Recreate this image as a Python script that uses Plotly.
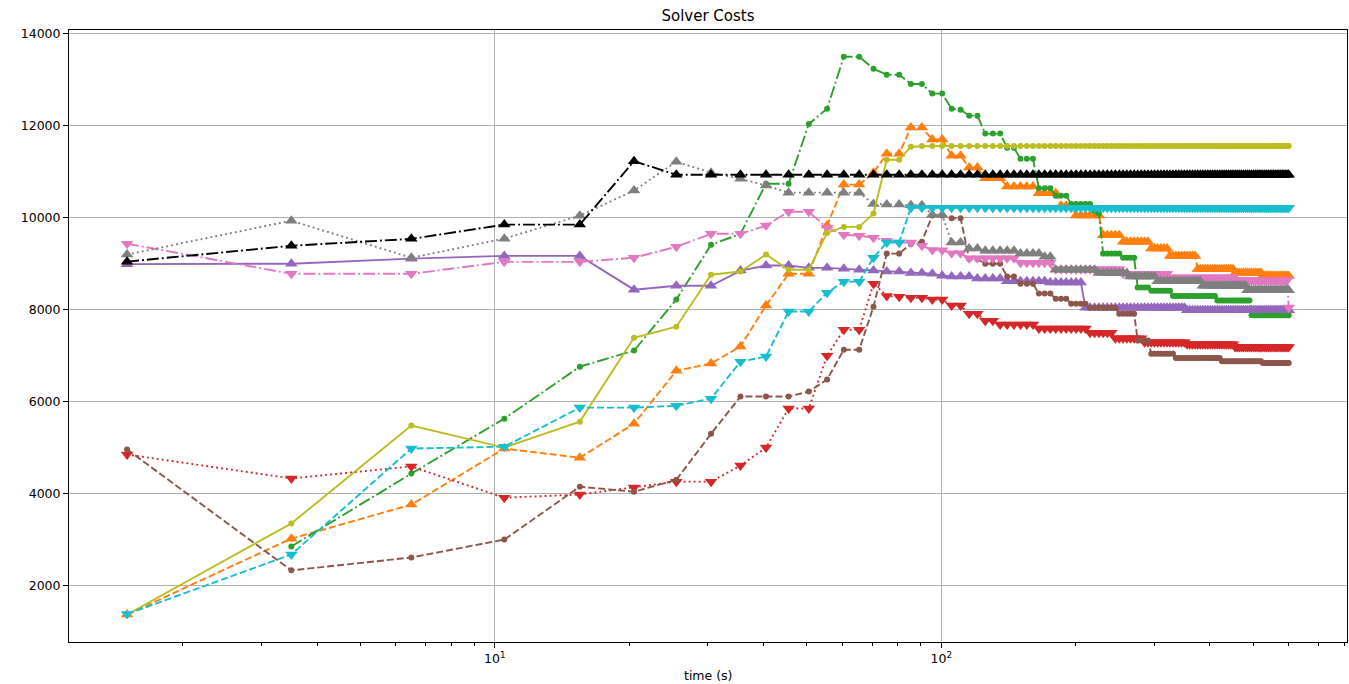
import plotly.graph_objects as go

# ---- data ----
# sample times (s)
T = [1.5, 3.5, 6.5, 10.5, 15.5] + [20.5 + 5 * i for i in range(117)]

# early values: one per time up to t=100.5 ; tail: (t_end, value) plateaus after that
orange_early = [1370, 3020, 3760, 4980, 4780, 5520, 6670, 6830, 7200, 8090, 8780, 8780,
                9830, 10720, 10720, 10980, 11390, 11390, 11960, 11960, 11700, 11700]
orange_tail = [(110.5, 11350), (120.5, 11090), (135.5, 10860), (160.5, 10680), (180.5, 10530),
               (195.5, 10260), (225.5, 10050), (250.5, 9620), (290.5, 9480), (320.5, 9330),
               (370.5, 9170), (450.5, 8880), (520.5, 8800), (600.5, 8730)]

green_early = [None, 2850, 4435, 5630, 6760, 7110, 8220, 9410, 9650, 10740, 10740, 12040,
               12370, 13500, 13500, 13240, 13110, 13110, 12910, 12910, 12700, 12700]
green_tail = [(105.5, 12370), (110.5, 12350), (120.5, 12220), (135.5, 11830), (145.5, 11520),
              (160.5, 11280), (175.5, 10640), (190.5, 10480), (215.5, 10300), (220.5, 10150),
              (225.5, 10090), (250.5, 9220), (270.5, 9130), (290.5, 8480), (325.5, 8410),
              (410.5, 8300), (490.5, 8200), (600.5, 7880)]

red_early = [4850, 4330, 4590, 3910, 3980, 4130, 4260, 4260, 4610, 5000, 5850, 5850,
             7000, 7565, 7565, 8565, 8300, 8280, 8260, 8260, 8220, 8220]
red_tail = [(110.5, 8090), (120.5, 7910), (130.5, 7760), (160.5, 7680), (210.5, 7590),
            (240.5, 7500), (280.5, 7380), (350.5, 7290), (450.5, 7250), (600.5, 7190)]

purple_early = [8990, 9000, 9110, 9170, 9170, 8435, 8520, 8520, 8850, 8960, 8960, 8910,
                8910, 8890, 8870, 8850, 8830, 8830, 8800, 8800, 8780, 8740]
purple_tail = [(115.5, 8720), (135.5, 8680), (170.5, 8620), (205.5, 8590), (350.5, 8040),
               (600.5, 7990)]

brown_early = [4960, 2330, 2610, 3000, 4150, 4040, 4300, 5300, 6110, 6110, 6110, 6220,
               6480, 7130, 7130, 8065, 9220, 9220, 9430, 9480, 10050, 10050]
brown_tail = [(110.5, 9990), (120.5, 9100), (135.5, 9000), (145.5, 8720), (160.5, 8565),
              (175.5, 8350), (190.5, 8240), (210.5, 8130), (245.5, 8040), (270.5, 7910),
              (290.5, 7330), (330.5, 7040), (420.5, 6950), (520.5, 6880), (600.5, 6840)]

pink_early = [9435, 8780, 8780, 9040, 9040, 9130, 9370, 9650, 9650, 9830, 10130, 10130,
              9780, 9630, 9610, 9565, 9500, 9460, 9460, 9390, 9300, 9290]
pink_tail = [(110.5, 9230), (145.5, 9120), (175.5, 9020), (250.5, 8880), (320.5, 8780),
             (450.5, 8700), (595.5, 8640), (600.5, 8050)]

gray_early = [9200, 9935, 9130, 9545, 10045, 10590, 11220, 10980, 10850, 10700, 10545, 10545,
              10545, 10545, 10545, 10300, 10285, 10285, 10270, 10270, 10065, 10065]
gray_tail = [(110.5, 9460), (120.5, 9330), (145.5, 9280), (165.5, 9220), (175.5, 9150),
             (220.5, 8870), (260.5, 8800), (300.5, 8720), (380.5, 8620), (480.5, 8520),
             (600.5, 8420)]

olive_early = [1370, 3350, 5480, 5000, 5565, 7390, 7630, 8760, 8830, 9200, 8870, 8870,
               9670, 9800, 9800, 10090, 11260, 11260, 11545, 11560, 11560, 11560]
olive_tail = [(600.5, 11560)]

cyan_early = [1380, 2675, 4980, 5020, 5870, 5870, 5910, 6065, 6870, 6980, 7960, 7960,
              8370, 8610, 8610, 9130, 9460, 9460, 10217, 10217, 10217, 10217]
cyan_tail = [(600.5, 10217)]

black_early = [9045, 9390, 9540, 9850, 9850, 11230]
black_tail = [(600.5, 10935)]

Y_TICKS = [2000, 4000, 6000, 8000, 10000, 12000, 14000]
X_TICKS = [10, 100]
X_TICKTEXT = ["10<sup>1</sup>", "10<sup>2</sup>"]


def build(early, tail):
    vals = list(early)
    for t in T[len(early):]:
        for t_end, v in tail:
            if t <= t_end + 1e-9:
                vals.append(v)
                break
    return vals


DASHED = "7px,3px"
DOTTED = "1.9px,3.1px"
DASHDOT = "12px,3px,1.9px,3px"

TRI = 11
DOT = 6

series = [
    (orange_early, orange_tail, "#ff7f0e", DASHED, "triangle-up", TRI),
    (green_early, green_tail, "#2ca02c", DASHDOT, "circle", DOT),
    (red_early, red_tail, "#d62728", DOTTED, "triangle-down", TRI),
    (purple_early, purple_tail, "#9467bd", "solid", "triangle-up", TRI),
    (brown_early, brown_tail, "#8c564b", DASHED, "circle", DOT),
    (pink_early, pink_tail, "#e377c2", DASHDOT, "triangle-down", TRI),
    (gray_early, gray_tail, "#7f7f7f", DOTTED, "triangle-up", TRI),
    (olive_early, olive_tail, "#bcbd22", "solid", "circle", DOT),
    (cyan_early, cyan_tail, "#17becf", DASHED, "triangle-down", TRI),
    (black_early, black_tail, "#000000", DASHDOT, "triangle-up", TRI),
]

fig = go.Figure()
for early, tail, color, dash, sym, size in series:
    fig.add_trace(go.Scatter(
        x=T, y=build(early, tail), mode="lines+markers",
        line=dict(color=color, width=1.9, dash=dash),
        marker=dict(symbol=sym, size=size, color=color, line=dict(width=0)),
        connectgaps=False, hoverinfo="x+y",
    ))

minor_vals = [m * d for d in (1, 10, 100) for m in range(2, 10)]

fig.update_layout(
    width=1349, height=684,
    margin=dict(l=69, r=2, t=30, b=42, autoexpand=False),
    paper_bgcolor="white", plot_bgcolor="white",
    font=dict(family="DejaVu Sans", size=12.5, color="black"),
    showlegend=False,
    title=dict(text="Solver Costs", x=0.5, xref="paper", xanchor="center",
               y=1 - 16 / 684, yref="container", yanchor="middle",
               font=dict(size=15, color="black")),
    annotations=[dict(text="time (s)", x=0.5, xref="paper", y=-(675 - 642) / 612,
                      yref="paper", xanchor="center", yanchor="middle", showarrow=False,
                      font=dict(size=12.5, color="black"))],
)
fig.update_xaxes(
    type="log", range=[0.046, 2.909],
    showline=True, mirror=True, linecolor="black", linewidth=1,
    ticks="outside", ticklen=5, tickcolor="black", tickwidth=1,
    tickmode="array", tickvals=X_TICKS, ticktext=X_TICKTEXT,
    showgrid=True, gridcolor="#b0b0b0", gridwidth=1, zeroline=False,
    minor=dict(ticks="outside", ticklen=3, tickcolor="black", tickwidth=0.8,
               tickmode="array", tickvals=minor_vals, showgrid=False),
)
fig.update_yaxes(
    range=[772, 14083],
    showline=True, mirror=True, linecolor="black", linewidth=1,
    ticks="outside", ticklen=5, tickcolor="black", tickwidth=1,
    tickmode="array", tickvals=Y_TICKS, ticktext=[str(v) for v in Y_TICKS],
    showgrid=True, gridcolor="#b0b0b0", gridwidth=1, zeroline=False,
)

fig.write_html("out.html", config={"displayModeBar": False})

# remove the default page margin so the figure sits at the window's top-left corner
with open("out.html", "r", encoding="utf-8") as fh:
    html = fh.read()
html = html.replace("<head>", "<head><style>html,body{margin:0;padding:0;overflow:hidden}</style>", 1)
with open("out.html", "w", encoding="utf-8") as fh:
    fh.write(html)
